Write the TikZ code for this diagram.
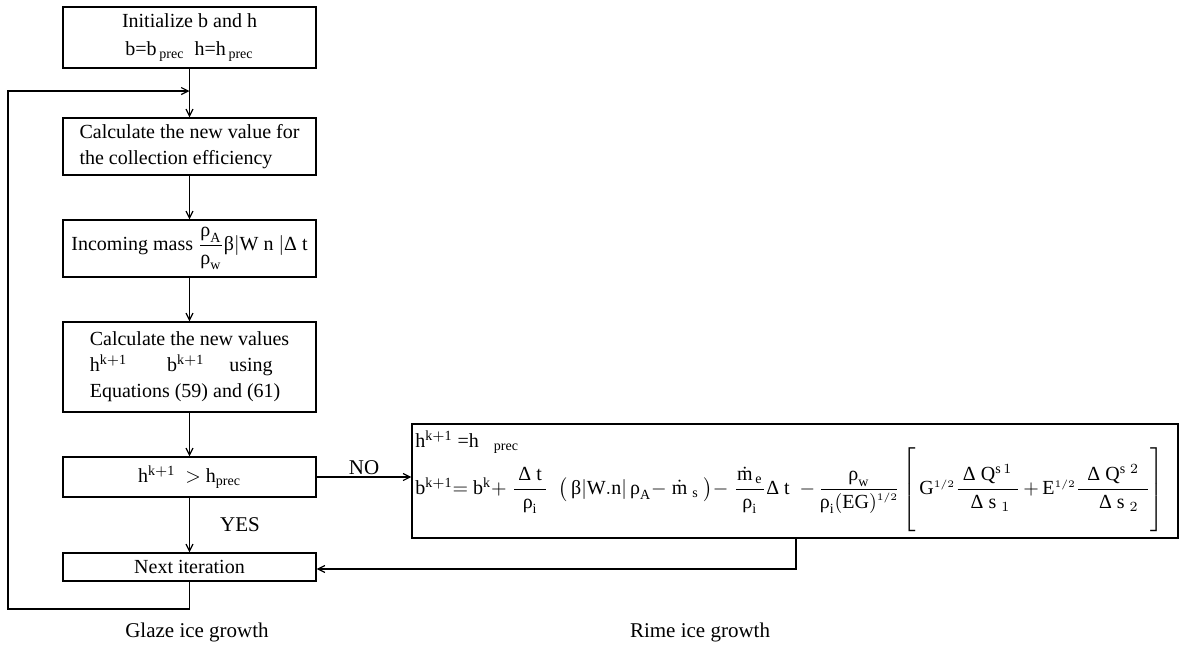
\documentclass[tikz,border=0pt]{standalone}
\usepackage{amsmath}
\usepackage{fontspec}
\setmainfont{Liberation Serif}
\usetikzlibrary{arrows.meta}

\newcommand{\gk}[1]{\text{#1}}
\newcommand{\rom}[1]{\mathrm{#1}}
\newcommand{\wfrac}[3]{\dfrac{\makebox[#1]{$#2$}}{\makebox[#1]{$#3$}}}
\newcommand{\half}{{\scriptscriptstyle 1/2}}

\tikzset{
  stepbox/.style={draw, line width=0.6pt, minimum width=126.5pt, inner sep=2pt, align=center, font=\fontsize{10}{13}\selectfont},
  flow/.style={line width=0.6pt, -{Straight Barb[length=3.5pt,width=3.5pt]}},
  lbl/.style={font=\fontsize{10.5}{12}\selectfont, inner sep=1pt}
}

\begin{document}
\begin{tikzpicture}[x=0.5pt, y=-0.5pt]
\useasboundingbox (0,0) rectangle (1181,649);
% ---------------- left: glaze ice growth ----------------------------------
\node[stepbox, minimum height=30.5pt] (init) at (189.5,37.5)
  {Initialize b and h\\[1pt] b=b$_{\,\rom{prec}}$\ \ h=h$_{\,\rom{prec}}$};
\node[stepbox, minimum height=28.5pt, align=left] (coll) at (189.5,146.5)
  {Calculate the new value for\\the collection efficiency};
\node[stepbox, minimum height=28.5pt, inner sep=1pt] (mass) at (189.5,248.5)
  {Incoming mass $\dfrac{\gk{ρ}_{\rom{A}}}{\gk{ρ}_{\rom{w}}}\gk{β}|\rom{W\ n}\ |\gk{Δ}\ \rom{t}$};
\node[stepbox, minimum height=45pt, align=left] (newv) at (189.5,367)
  {Calculate the new values\\h$^{\rom{k+1}}$\qquad b$^{\rom{k+1}}$\quad\ using\\Equations (59) and (61)};
\node[stepbox, minimum height=20pt] (test) at (189.5,477)
  {h$^{\rom{k+1}}$\ \ $>$\ h$_{\rom{prec}}$};
\node[stepbox, minimum height=14pt, inner sep=1pt] (next) at (189.5,567) {Next iteration};
\coordinate (join) at (189.5,91);
\coordinate (lb) at (189.5,609);
\coordinate (ll) at (8,609);
\coordinate (lt) at (8,91);

\draw[line width=0.6pt] (init) -- (join);
\draw[flow] (join) -- (coll);
\draw[flow] (coll) -- (mass);
\draw[flow] (mass) -- (newv);
\draw[flow] (newv) -- (test);
\draw[flow] (test) -- node[lbl, right=14pt] {YES} (next);
\draw[flow] (next) -- (lb) -- (ll) -- (lt) -- (join);
\node[lbl] (glaze) at (197,632) {Glaze ice growth};

% ---------------- right: rime ice growth ----------------------------------
\node[draw, line width=0.6pt, minimum width=383pt, minimum height=57pt, inner sep=0pt] (rime) at (795,481) {};
\node[anchor=west, inner sep=0pt, font=\fontsize{10}{12}\selectfont] (hres) at (415,442)
  {h$^{\rom{k+1}}$ =h$_{\ \ \ \rom{prec}}$};
\node[anchor=west, inner sep=0pt, font=\fontsize{10}{12}\selectfont] (bres) at (415,490)
  {$\rom{b}^{\rom{k+1}}{=}\ \rom{b}^{\rom{k}}{+}\ \wfrac{16pt}{\gk{Δ}\ \rom{t}}{\gk{ρ}_{\rom{i}}}\ \ \bigl(\,\gk{β}|\rom{W.n}|\,\gk{ρ}_{\rom{A}}{-}\ \dot{\rom{m}}_{\ \rom{s}}\ \bigr){-}\ \wfrac{14pt}{\dot{\rom{m}}_{\,\rom{e}}}{\gk{ρ}_{\rom{i}}}\gk{Δ}\ \rom{t}\ \ {-}\,\wfrac{38pt}{\gk{ρ}_{\rom{w}}}{\gk{ρ}_{\rom{i}}(\rom{EG})^{\half}}\left[\rule[-19pt]{0pt}{42pt}\,\rom{G}^{\half}\wfrac{30pt}{\gk{Δ}\ \rom{Q}^{\rom{s}\,1}}{\;\gk{Δ}\ \rom{s}_{\ 1}}\,{+}\,\rom{E}^{\half}\wfrac{35pt}{\gk{Δ}\ \rom{Q}^{\rom{s}\ 2}}{\;\;\gk{Δ}\ \rom{s}_{\ 2}}\right]$};
\coordinate (rb) at (796,569);

\draw[flow] (test) -- node[lbl, above] {NO} (rime.west |- test);
\draw[flow] (rime.south -| rb) -- (rb) -- (next.east |- rb);
\node[lbl] (rimel) at (700,632) {Rime ice growth};
\end{tikzpicture}
\end{document}
